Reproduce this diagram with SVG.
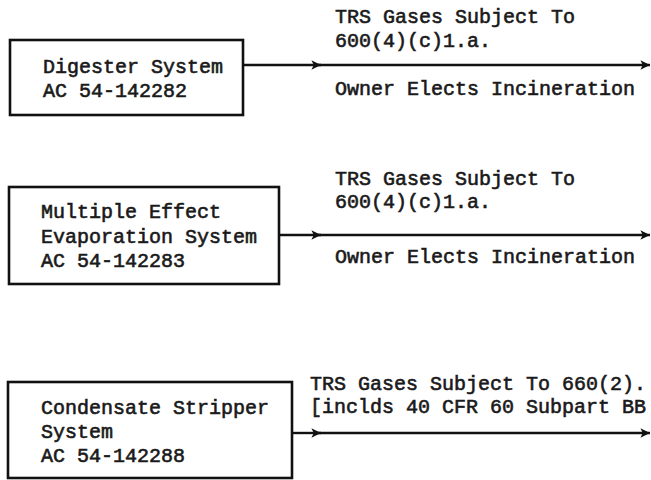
<svg xmlns="http://www.w3.org/2000/svg" width="651" height="480" viewBox="0 0 651 480">
  <style>
    .box { fill: #ffffff; stroke: #111111; stroke-width: 2.6; }
    .flow { fill: none; stroke: #111111; stroke-width: 2.4; }
    text { font-family: "Liberation Mono", "DejaVu Sans Mono", monospace; font-size: 20px; fill: #1a1a1a; stroke: #1a1a1a; stroke-width: 0.6; }
  </style>
  <defs>
    <marker id="head" viewBox="0 0 10 10" refX="9" refY="5" markerWidth="12" markerHeight="12" orient="auto" markerUnits="userSpaceOnUse">
      <path d="M1,1 L9,5 L1,9 L3,5 Z" fill="#111111"/>
    </marker>
  </defs>
  <rect width="651" height="480" fill="#ffffff"/>

  <g id="connectors">
    <path class="flow" d="M243,65 H321" marker-end="url(#head)"/>
    <path class="flow" d="M318,65 H650" marker-end="url(#head)"/>
    <path class="flow" d="M279,235 H321" marker-end="url(#head)"/>
    <path class="flow" d="M318,235 H650" marker-end="url(#head)"/>
    <path class="flow" d="M292,433 H321" marker-end="url(#head)"/>
    <path class="flow" d="M318,433 H650" marker-end="url(#head)"/>
  </g>

  <g id="digester">
    <rect class="box" x="10" y="40" width="233" height="75"/>
    <text x="43" y="73">Digester System</text>
    <text x="43" y="97">AC 54-142282</text>
  </g>

  <g id="evaporation">
    <rect class="box" x="9" y="187" width="270" height="97"/>
    <text x="41" y="218">Multiple Effect</text>
    <text x="41" y="243">Evaporation System</text>
    <text x="41" y="267">AC 54-142283</text>
  </g>

  <g id="stripper">
    <rect class="box" x="8" y="382" width="284" height="96"/>
    <text x="41" y="414">Condensate Stripper</text>
    <text x="41" y="438">System</text>
    <text x="41" y="462">AC 54-142288</text>
  </g>

  <g id="labels">
    <text x="335" y="23">TRS Gases Subject To</text>
    <text x="335" y="47">600(4)(c)1.a.</text>
    <text x="335" y="95">Owner Elects Incineration</text>
    <text x="335" y="185">TRS Gases Subject To</text>
    <text x="335" y="208">600(4)(c)1.a.</text>
    <text x="335" y="263">Owner Elects Incineration</text>
    <text x="310" y="390">TRS Gases Subject To 660(2).</text>
    <text x="310" y="413">[inclds 40 CFR 60 Subpart BB</text>
  </g>
</svg>
